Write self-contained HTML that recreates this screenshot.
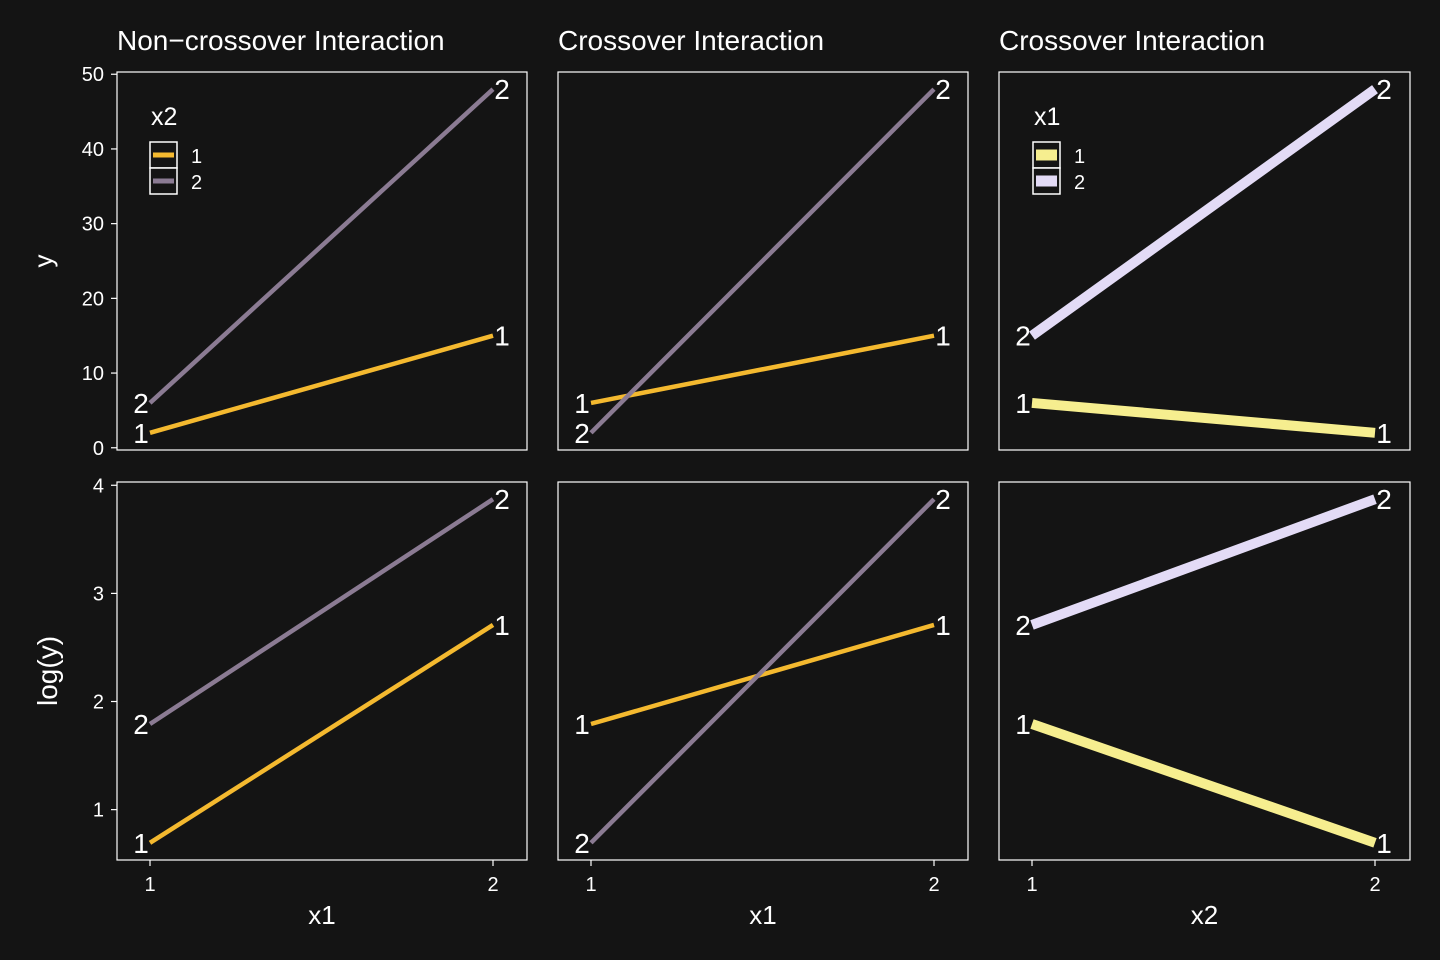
<!DOCTYPE html>
<html><head><meta charset="utf-8">
<style>
html,body{margin:0;padding:0;background:#141414;}
svg{display:block;font-family:"Liberation Sans",Arial,sans-serif;}
</style></head>
<body>
<svg id="chart" width="1440" height="960"></svg>
<script>
const xLevels = [1, 2];
const p1Series1 = [2, 15];
const p1Series2 = [6, 48];
const p2Series1 = [6, 15];
const p2Series2 = [2, 48];
const p3Series1 = [6, 2];
const p3Series2 = [15, 48];
const topTicks = [0, 10, 20, 30, 40, 50];
const botTicks = [1, 2, 3, 4];
const colTitles = ["Non\u2212crossover Interaction", "Crossover Interaction", "Crossover Interaction"];
const xTitles = ["x1", "x1", "x2"];
const seriesLabels = ["1", "2"];

const NS = "http://www.w3.org/2000/svg";
const svg = document.getElementById("chart");
function mk(tag, attrs, parent) {
  const e = document.createElementNS(NS, tag);
  for (const k in attrs) e.setAttribute(k, attrs[k]);
  (parent || svg).appendChild(e);
  return e;
}
const cols = [[117, 527], [558, 968], [999, 1410]];
const rows = [[72, 450], [482, 860]];
const panels = [
  {s: [p1Series1, p1Series2], c: ["#f4b92f", "#8b7b93"], w: 4.5},
  {s: [p2Series1, p2Series2], c: ["#f4b92f", "#8b7b93"], w: 4.5},
  {s: [p3Series1, p3Series2], c: ["#f6ee8f", "#e3dbf6"], w: 10}
];
function xs(col, v) { return cols[col][0] + 33 + (v - 1) * 343; }
function ysTop(v) { const lo = -0.3, hi = 50.3; return 450 - (v - lo) / (hi - lo) * 378; }
const llo = Math.log(2) - 0.159, lhi = Math.log(48) + 0.159;
function ysBot(v) { return 860 - (v - llo) / (lhi - llo) * 378; }

for (let c = 0; c < 3; c++) {
  const t = mk("text", {x: cols[c][0], y: 50, fill: "#fff", "font-size": 28});
  t.textContent = colTitles[c];
  
  
  const xt = mk("text", {x: (cols[c][0] + cols[c][1]) / 2, y: 924, fill: "#fff", "font-size": 26, "text-anchor": "middle"});
  xt.textContent = xTitles[c];
  
  
  for (let r = 0; r < 2; r++) {
    const g = mk("g", {});
    
    
    mk("rect", {x: cols[c][0], y: rows[r][0], width: cols[c][1] - cols[c][0], height: rows[r][1] - rows[r][0], fill: "none", stroke: "#fff", "stroke-width": 1.2}, g);
    const ys = r === 0 ? ysTop : (v => ysBot(Math.log(v)));
    const p = panels[c];
    for (let s = 0; s < 2; s++) {
      const vals = p.s[s];
      const ln = mk("line", {x1: xs(c, xLevels[0]), y1: ys(vals[0]), x2: xs(c, xLevels[1]), y2: ys(vals[1]), stroke: p.c[s], "stroke-width": p.w}, g);
      
      
      for (let i = 0; i < 2; i++) {
        const lb = mk("text", {x: xs(c, xLevels[i]) + (i === 0 ? -9 : 9), y: ys(vals[i]) + 10, fill: "#fff", "font-size": 28, "text-anchor": "middle"}, g);
        lb.textContent = seriesLabels[s];
        
        
      }
    }
    if (r === 1) {
      for (const v of xLevels) {
        const X = xs(c, v);
        mk("line", {x1: X, y1: 860, x2: X, y2: 866, stroke: "#fff", "stroke-width": 1.2});
        const tl = mk("text", {x: X, y: 891, fill: "#fff", "font-size": 20, "text-anchor": "middle"});
        tl.textContent = v;
        
        
      }
    }
    if (c === 0) {
      const ticks = r === 0 ? topTicks : botTicks;
      const f = r === 0 ? ysTop : ysBot;
      for (const v of ticks) {
        const Y = f(v);
        mk("line", {x1: 111, y1: Y, x2: 117, y2: Y, stroke: "#fff", "stroke-width": 1.2});
        const tl = mk("text", {x: 104, y: Y + 7, fill: "#fff", "font-size": 20, "text-anchor": "end"});
        tl.textContent = v;
        
        
      }
    }
  }
}
const yt1 = mk("text", {x: 0, y: 0, fill: "#fff", "font-size": 26, "text-anchor": "middle", transform: "translate(52,261) rotate(-90)"});
yt1.textContent = "y";


const yt2 = mk("text", {x: 0, y: 0, fill: "#fff", "font-size": 28, "text-anchor": "middle", transform: "translate(57,671) rotate(-90)"});
yt2.textContent = "log(y)";



function legend(x, title, colors, h) {
  const g = mk("g", {});
  
  
  const t = mk("text", {x: x + 1, y: 125, fill: "#fff", "font-size": 25}, g);
  t.textContent = title;
  for (let i = 0; i < 2; i++) {
    const y0 = 142 + i * 26;
    mk("rect", {x: x, y: y0, width: 27, height: 26, fill: "#141414", stroke: "#fff", "stroke-width": 1.5}, g);
    mk("rect", {x: x + 3, y: y0 + 13 - h / 2, width: 21, height: h, fill: colors[i]}, g);
    const lt = mk("text", {x: x + 41, y: y0 + 21, fill: "#fff", "font-size": 20}, g);
    lt.textContent = seriesLabels[i];
    
    
  }
}
legend(150, "x2", ["#f4b92f", "#8b7b93"], 5);
legend(1033, "x1", ["#f6ee8f", "#e3dbf6"], 11);
</script>
</body></html>
